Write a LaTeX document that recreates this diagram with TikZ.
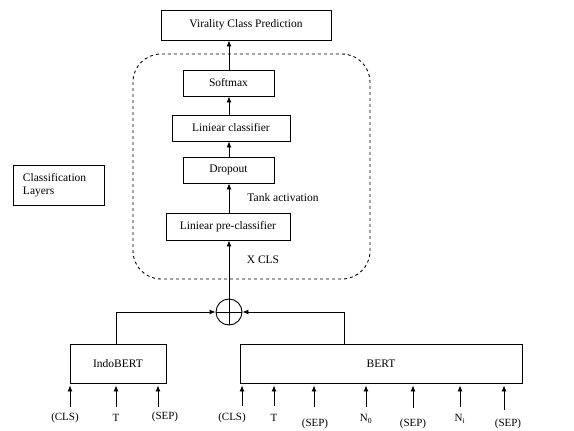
\documentclass[tikz,border=0pt]{standalone}
\usepackage{fontspec}
\setmainfont{Liberation Serif}
\usetikzlibrary{arrows.meta,calc}
\begin{document}
\begin{tikzpicture}[x=1pt,y=-1pt,
  box/.style={draw,line width=0.9pt,inner sep=0pt,font=\fontsize{11.5}{13.5}\selectfont},
  arr/.style={line width=0.9pt,-{Latex[length=6pt,width=5pt]}},
  ln/.style={line width=0.9pt},
  lab/.style={inner sep=0pt,font=\fontsize{11.5}{13.5}\selectfont},
  inp/.style={inner sep=0pt,font=\fontsize{11}{13}\selectfont}]
\useasboundingbox (0,0) rectangle (574,431);
% main chain
\node[box,minimum width=170pt,minimum height=30pt] (vir) at (246,25) {Virality Class Prediction};
\draw[ln,dashed,rounded corners=28pt] (133,54) rectangle (370,279);
\node[box,minimum width=91pt,minimum height=26pt] (soft) at (228.5,83) {Softmax};
\node[box,minimum width=118pt,minimum height=26pt] (lin) at (231,128) {Liniear classifier};
\node[box,minimum width=91pt,minimum height=26pt] (drop) at (228.5,170) {Dropout};
\node[box,minimum width=124pt,minimum height=27pt] (pre) at (228,226.5) {Liniear pre-classifier};
\node[lab] (tank) at (283,198) {Tank activation};
\node[lab] (xcls) at (263,260) {X CLS};
\node[box,minimum width=91pt,minimum height=40pt,align=left,text width=71pt] (cl) at (58.5,185) {Classification\\Layers};
% combine circle
\node[draw,circle,line width=0.9pt,minimum size=26pt,inner sep=0pt] (plus) at (229,312) {};
\draw[ln] (plus.north) -- (plus.south) (plus.west) -- (plus.east);
% encoders
\node[box,minimum width=96pt,minimum height=39pt] (indo) at (118,363.5) {IndoBERT};
\node[box,minimum width=282pt,minimum height=39pt] (bert) at (381,363.5) {BERT};
% arrows in chain
\coordinate (s) at (229,0);
\draw[arr] (plus.north) -- (plus.north |- pre.south);
\draw[arr] (pre.north -| s) -- (drop.south -| s);
\draw[arr] (drop.north -| s) -- (lin.south -| s);
\draw[arr] (lin.north -| s) -- (soft.south -| s);
\draw[arr] (soft.north -| s) -- (vir.south -| s);
% encoders to circle
\coordinate (ib) at (116,0);
\coordinate (bb) at (344,0);
\draw[arr] (indo.north -| ib) |- (plus.west);
\draw[arr] (bert.north -| bb) |- (plus.east);
% inputs
\foreach \x/\n in {70/a1,116/a2,158/a3}{
  \coordinate (\n) at (\x,407);
  \draw[arr] (\n) -- ($(\n |- indo.south)+(0,2)$);
}
\foreach \x/\n/\yy in {242/b1/406,274/b2/406,314/b3/407,366/b4/407,413/b5/408,460/b6/407,504/b7/410}{
  \coordinate (\n) at (\x,\yy);
  \draw[arr] (\n) -- ($(\n |- bert.south)+(0,2)$);
}
\node[inp] (t1) at (65,418) {(CLS)};
\node[inp] (t2) at (116,418) {T};
\node[inp] (t3) at (165,417) {(SEP)};
\node[inp] (u1) at (232,418) {(CLS)};
\node[inp] (u2) at (274,418) {T};
\node[inp] (u3) at (315,424) {(SEP)};
\node[inp] (u4) at (366,419) {N\textsubscript{0}};
\node[inp] (u5) at (413,424) {(SEP)};
\node[inp] (u6) at (460,419) {N\textsubscript{i}};
\node[inp] (u7) at (508,424) {(SEP)};
\end{tikzpicture}
\end{document}
